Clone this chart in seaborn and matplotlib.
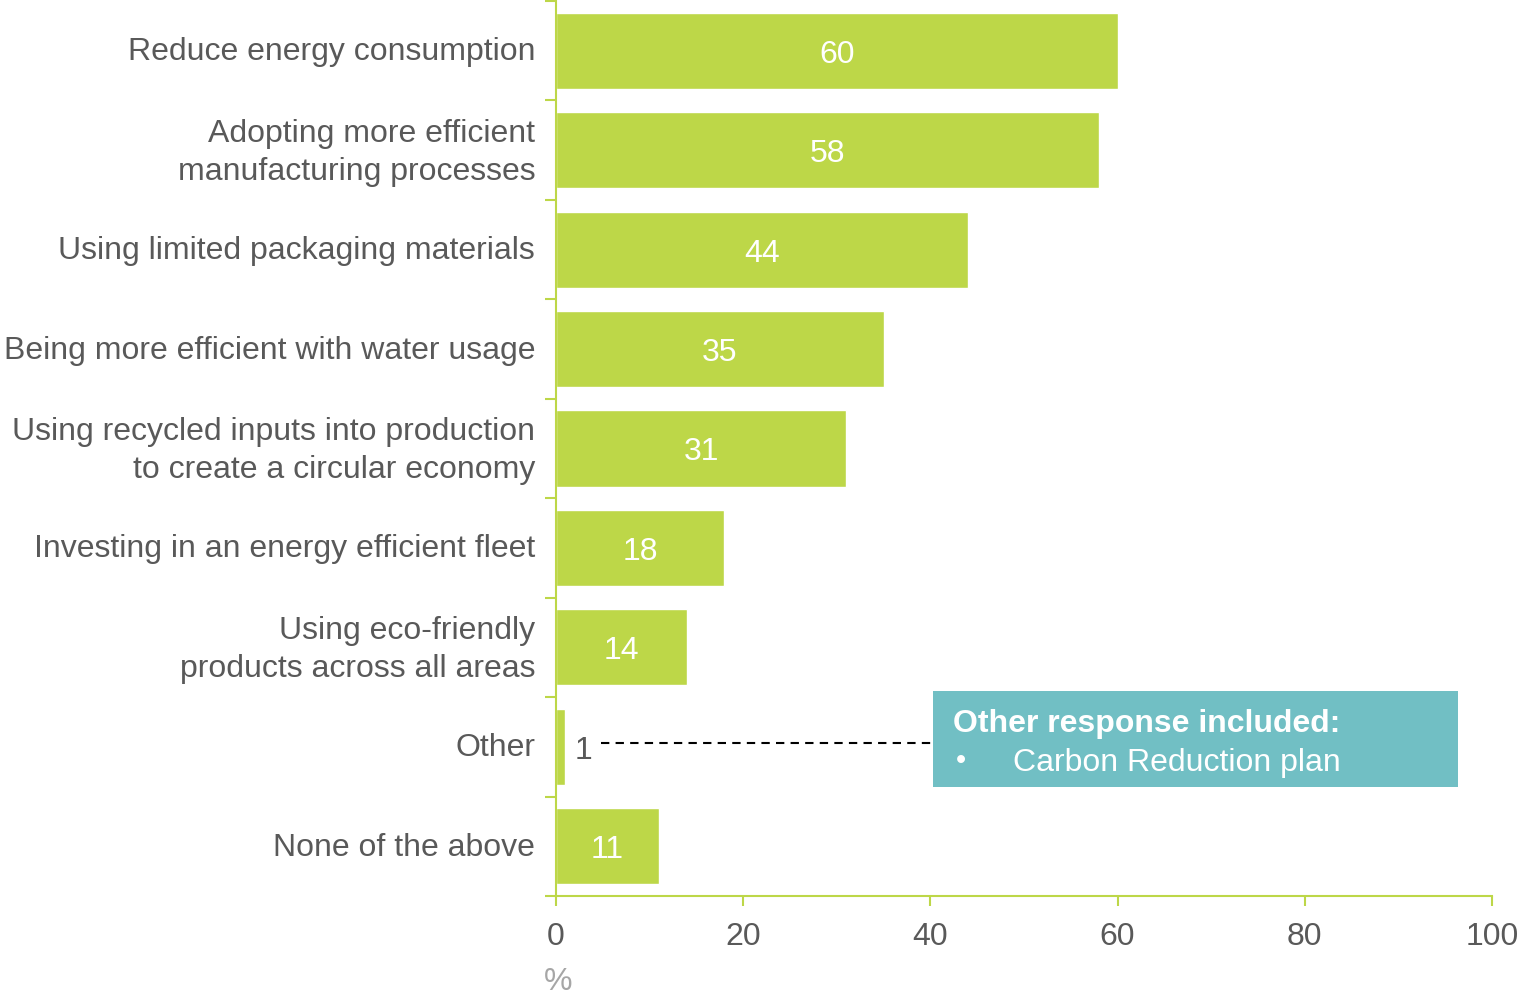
import matplotlib
matplotlib.use("Agg")
import matplotlib.pyplot as plt
import matplotlib.transforms as mtransforms
import seaborn as sns
import pandas as pd
from matplotlib.patches import Rectangle
from matplotlib.ticker import FixedLocator

categories = [
    "Reduce energy consumption",
    "Adopting more efficient\nmanufacturing processes",
    "Using limited packaging materials",
    "Being more efficient with water usage",
    "Using recycled inputs into production\nto create a circular economy",
    "Investing in an energy efficient fleet",
    "Using eco-friendly\nproducts across all areas",
    "Other",
    "None of the above",
]
values = [60, 58, 44, 35, 31, 18, 14, 1, 11]
x_ticks = [0, 20, 40, 60, 80, 100]
note_title = "Other response included:"
note_item = "Carbon Reduction plan"

sns.set_theme(style="white")
plt.rcParams["font.family"] = ["Liberation Sans", "DejaVu Sans"]

GREEN = "#BDD748"
AXIS = "#BDD748"
TXT = "#595959"
TEAL = "#71BFC4"
FS = 23

df = pd.DataFrame({"cat": categories, "val": values})

fig = plt.figure(figsize=(15.22, 9.94), dpi=100)
ax = fig.add_axes([556 / 1522, 1 - 896 / 994, (1492 - 556) / 1522, (895) / 994])

sns.barplot(data=df, x="val", y="cat", orient="h", color=GREEN, saturation=1,
            width=0.765, ax=ax)

ax.set_xlim(0, 100)
ax.set_ylim(8.5, -0.5)

for sp in ["top", "right"]:
    ax.spines[sp].set_visible(False)
for sp in ["left", "bottom"]:
    ax.spines[sp].set_color(AXIS)
    ax.spines[sp].set_linewidth(1.5)

ax.set_xticks(x_ticks)
ax.set_xticklabels([str(t) for t in x_ticks], fontsize=FS, color=TXT)
ax.tick_params(axis="x", bottom=True, length=7, width=1.5, color=AXIS, direction="out", pad=12)

ax.set_yticks(range(len(categories)))
ax.set_yticklabels(categories, fontsize=FS, color=TXT, linespacing=1.35)
ax.tick_params(axis="y", which="major", left=True, length=0, pad=15)
ax.yaxis.set_minor_locator(FixedLocator([i - 0.5 for i in range(len(categories) + 1)]))
ax.tick_params(axis="y", which="minor", left=True, length=8, width=1.5, color=AXIS, direction="out")

for lab in ax.get_yticklabels():
    dy = 5 if "\n" in lab.get_text() else 2
    lab.set_transform(lab.get_transform() + mtransforms.ScaledTranslation(0, dy / 100, fig.dpi_scale_trans))

ax.set_xlabel("")
ax.set_ylabel("")

for i, v in enumerate(values):
    if v >= 5:
        ax.text(v / 2, i + 0.12, str(v), ha="center", va="baseline", color="white", fontsize=FS)
    else:
        ax.text(v + 1.0, i + 0.12, str(v), ha="left", va="baseline", color=TXT, fontsize=FS)

fig.text(558 / 1522, 1 - 982 / 994, "%", ha="center", va="center", fontsize=FS, color="#A6A6A6")

# annotation
oy = categories.index("Other")
ax.plot([4.8, 40.3], [oy - 0.04, oy - 0.04], color="black", linestyle=(0, (4, 3)), linewidth=1.5,
        clip_on=False)
ax.add_patch(Rectangle((40.3, 6.44), 96.4 - 40.3, 7.40 - 6.44, facecolor=TEAL,
                       edgecolor="none", clip_on=False, zorder=3))
ax.text(42.4, 6.85, note_title, ha="left", va="baseline", color="white", fontsize=FS,
        fontweight="bold", zorder=4)
ax.text(42.7, 7.22, "\u2022", ha="left", va="baseline", color="white", fontsize=FS - 2, zorder=4)
ax.text(48.8, 7.24, note_item, ha="left", va="baseline", color="white", fontsize=FS, zorder=4)

fig.savefig("out.png", dpi=100)
